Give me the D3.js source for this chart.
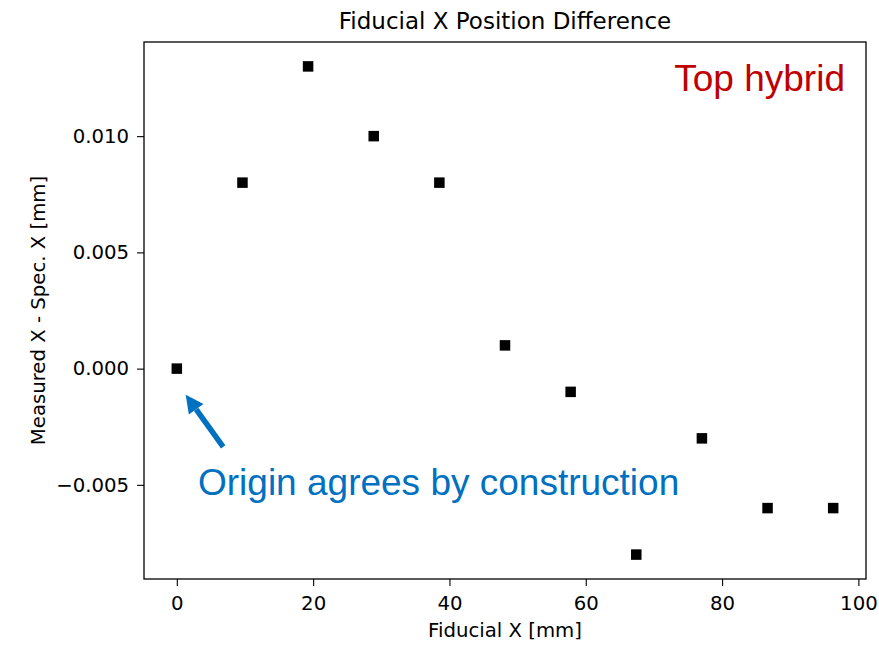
<!DOCTYPE html>
<html>
<head>
<meta charset="utf-8">
<script src="https://cdn.jsdelivr.net/npm/d3@7"></script>
<style>
  html, body { margin: 0; padding: 0; background: #fff; }
  svg { display: block; }
</style>
</head>
<body>
<svg id="chart" width="879" height="645"></svg>
<script>
// ---- data ----
const fidX  = [0, 9.63, 19.26, 28.89, 38.52, 48.15, 57.78, 67.41, 77.04, 86.67, 96.3];
const diffX = [0, 0.008, 0.013, 0.010, 0.008, 0.001, -0.001, -0.008, -0.003, -0.006, -0.006];
const xTicks = [0, 20, 40, 60, 80, 100];
const yTicks = [-0.005, 0, 0.005, 0.010];

const titleText = 'Fiducial X Position Difference';
const xLabel = 'Fiducial X [mm]';
const yLabel = 'Measured X - Spec. X [mm]';
const tagText = 'Top hybrid';
const noteText = 'Origin agrees by construction';
// arrow: from note (data coords) toward the origin point
const arrowFrom = [6.8, -0.00337];
const arrowTo   = [1.3, -0.00112];

// ---- layout ----
const svg = d3.select('#chart');
const plot = { left: 144, top: 42, right: 866, bottom: 579 };
const mplFont = '"DejaVu Sans", sans-serif';
const annFont = '"Liberation Sans", Arial, sans-serif';
const tickSize = '19.7px';

// matplotlib-like 5% margins
const xr = d3.extent(fidX), yr = d3.extent(diffX);
const xm = (xr[1] - xr[0]) * 0.05, ym = (yr[1] - yr[0]) * 0.05;
const x = d3.scaleLinear().domain([xr[0] - xm, xr[1] + xm]).range([plot.left, plot.right]);
const y = d3.scaleLinear().domain([yr[0] - ym, yr[1] + ym]).range([plot.bottom, plot.top]);

// axes
const xAxis = d3.axisBottom(x).tickValues(xTicks).tickSize(7).tickPadding(10).tickFormat(d3.format('d'));
const yAxis = d3.axisLeft(y).tickValues(yTicks).tickSize(7).tickPadding(8)
  .tickFormat(d => d3.format('.3f')(d).replace('-', '\u2212'));

const gx = svg.append('g').attr('transform', `translate(0,${plot.bottom})`).call(xAxis);
const gy = svg.append('g').attr('transform', `translate(${plot.left},0)`).call(yAxis);
[gx, gy].forEach(g => {
  g.select('.domain').remove();
  g.selectAll('.tick line').attr('stroke', '#000').attr('stroke-width', 1.1);
  g.selectAll('.tick text').attr('fill', '#000').style('font-family', mplFont).style('font-size', tickSize);
});

// frame
svg.append('rect')
  .attr('x', plot.left).attr('y', plot.top)
  .attr('width', plot.right - plot.left).attr('height', plot.bottom - plot.top)
  .attr('fill', 'none').attr('stroke', '#000').attr('stroke-width', 1.3);

// points
const ms = 10.5;
svg.append('g').selectAll('rect')
  .data(fidX.map((v, i) => [v, diffX[i]]))
  .join('rect')
  .attr('x', d => x(d[0]) - ms / 2)
  .attr('y', d => y(d[1]) - ms / 2)
  .attr('width', ms).attr('height', ms)
  .attr('fill', '#000');

// title + labels
svg.append('text').attr('x', (plot.left + plot.right) / 2).attr('y', 29)
  .attr('text-anchor', 'middle').style('font-family', mplFont).style('font-size', '23px')
  .text(titleText);
svg.append('text').attr('x', (plot.left + plot.right) / 2).attr('y', 637)
  .attr('text-anchor', 'middle').style('font-family', mplFont).style('font-size', tickSize)
  .text(xLabel);
svg.append('text')
  .attr('transform', `translate(45,${(plot.top + plot.bottom) / 2}) rotate(-90)`)
  .attr('text-anchor', 'middle').style('font-family', mplFont).style('font-size', tickSize)
  .text(yLabel);

// annotations
svg.append('text').attr('x', 845).attr('y', 91)
  .attr('text-anchor', 'end').attr('fill', '#c00000')
  .style('font-family', annFont).style('font-size', '37px')
  .text(tagText);
svg.append('text').attr('x', 198).attr('y', 495)
  .attr('fill', '#0070c0')
  .style('font-family', annFont).style('font-size', '37px')
  .text(noteText);

// arrow
const p0 = [x(arrowFrom[0]), y(arrowFrom[1])];
const p1 = [x(arrowTo[0]), y(arrowTo[1])];
const ang = Math.atan2(p1[1] - p0[1], p1[0] - p0[0]);
const headLen = 18, headW = 9;
const base = [p1[0] - headLen * Math.cos(ang), p1[1] - headLen * Math.sin(ang)];
svg.append('line')
  .attr('x1', p0[0]).attr('y1', p0[1]).attr('x2', base[0]).attr('y2', base[1])
  .attr('stroke', '#0070c0').attr('stroke-width', 5.5);
const nx = -Math.sin(ang), ny = Math.cos(ang);
svg.append('path')
  .attr('d', d3.line()([
    p1,
    [base[0] + nx * headW, base[1] + ny * headW],
    [base[0] - nx * headW, base[1] - ny * headW]
  ]) + 'Z')
  .attr('fill', '#0070c0');
</script>
</body>
</html>
